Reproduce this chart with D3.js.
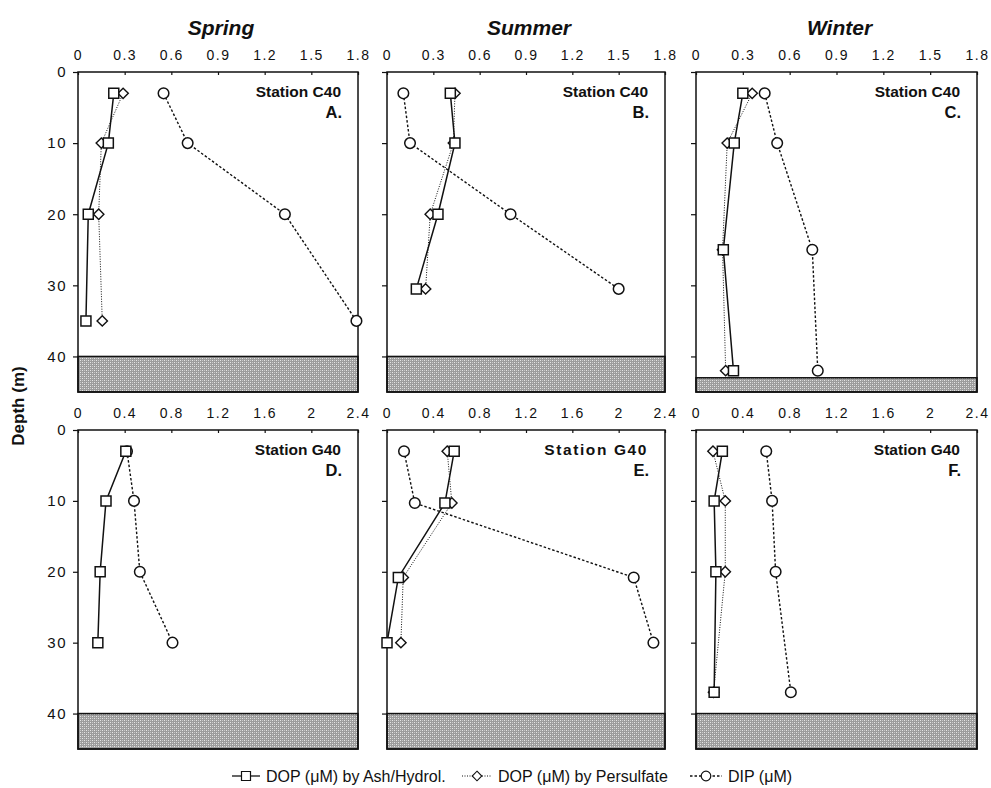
<!DOCTYPE html>
<html lang="en">
<head>
  <meta charset="UTF-8">
  <title>DOP and DIP depth profiles</title>
  <script src="https://d3js.org/d3.v7.min.js"></script>
  <style>
    body {
      margin: 0;
      padding: 0;
      background: #fff;
      font-family: "Liberation Sans", Arial, Helvetica, sans-serif;
    }
    svg text { fill: #111; }
    .tick line { stroke: #111; stroke-width: 1.2; }
    .domain { display: none; }
  </style>
</head>
<body>
  <svg id="chart" width="991" height="788"></svg>

  <script>
    // —— data ——
    const seasons = ["Spring", "Summer", "Winter"];
    const stationNames = ["Station C40", "Station G40"];
    const panelLetters = ["A.", "B.", "C.", "D.", "E.", "F."];
    const topTicks = [0, 0.3, 0.6, 0.9, 1.2, 1.5, 1.8];
    const bottomTicks = [0, 0.4, 0.8, 1.2, 1.6, 2, 2.4];
    const depthTicks = [0, 10, 20, 30, 40];
    const bottomDepth = [40, 40, 43, 40, 40, 40];

    const depthA = [3, 10, 20, 35];
    const ashA = [0.23, 0.195, 0.066, 0.051];
    const persA = [0.29, 0.15, 0.133, 0.156];
    const dipA = [0.55, 0.705, 1.33, 1.79];

    const depthB = [3, 10, 20, 30.5];
    const ashB = [0.41, 0.44, 0.33, 0.19];
    const persB = [0.44, 0.43, 0.28, 0.25];
    const dipB = [0.106, 0.149, 0.80, 1.50];

    const depthC = [3, 10, 25, 42];
    const ashC = [0.30, 0.245, 0.175, 0.24];
    const persC = [0.36, 0.20, 0.17, 0.19];
    const dipC = [0.44, 0.52, 0.745, 0.78];

    const depthD = [3, 10, 20, 30];
    const ashD = [0.41, 0.24, 0.19, 0.17];
    const persD = [];
    const dipD = [0.42, 0.48, 0.53, 0.81];

    const depthE = [3, 10.3, 20.8, 30];
    const ashE = [0.58, 0.50, 0.098, 0.0];
    const persE = [0.52, 0.56, 0.14, 0.12];
    const dipE = [0.147, 0.24, 2.13, 2.30];

    const depthF = [3, 10, 20, 37];
    const ashF = [0.225, 0.155, 0.17, 0.155];
    const persF = [0.145, 0.25, 0.25, 0.15];
    const dipF = [0.60, 0.65, 0.68, 0.81];

    const panels = [
      { depth: depthA, ash: ashA, pers: persA, dip: dipA },
      { depth: depthB, ash: ashB, pers: persB, dip: dipB },
      { depth: depthC, ash: ashC, pers: persC, dip: dipC },
      { depth: depthD, ash: ashD, pers: persD, dip: dipD },
      { depth: depthE, ash: ashE, pers: persE, dip: dipE },
      { depth: depthF, ash: ashF, pers: persF, dip: dipF }
    ];

    const legendLabels = ["DOP (\u03bcM) by Ash/Hydrol.", "DOP (\u03bcM) by Persulfate", "DIP (\u03bcM)"];

    // —— layout ——
    const colX = [[78, 358], [387, 665], [696, 977]];
    const rowY = [[72, 392], [430, 749]];
    const maxDepth = 45;

    const svg = d3.select("#chart");

    // stippled sea-floor pattern
    const pat = svg.append("defs").append("pattern")
      .attr("id", "floor").attr("width", 4).attr("height", 4)
      .attr("patternUnits", "userSpaceOnUse");
    pat.append("rect").attr("width", 4).attr("height", 4).attr("fill", "#9c9c9c");
    pat.append("rect").attr("x", 0).attr("y", 0).attr("width", 1).attr("height", 1).attr("fill", "#e6e6e6");
    pat.append("rect").attr("x", 2).attr("y", 2).attr("width", 1).attr("height", 1).attr("fill", "#e6e6e6");
    pat.append("rect").attr("x", 2).attr("y", 0).attr("width", 1).attr("height", 1).attr("fill", "#c8c8c8");
    pat.append("rect").attr("x", 0).attr("y", 2).attr("width", 1).attr("height", 1).attr("fill", "#c8c8c8");

    const squarePath = s => `M${-s},${-s}h${2*s}v${2*s}h${-2*s}Z`;
    const diamondPath = s => `M0,${-s}L${s},0L0,${s}L${-s},0Z`;

    function drawPanel(i) {
      const row = Math.floor(i / 3), col = i % 3;
      const p = panels[i];
      const xMax = row === 0 ? 1.8 : 2.4;
      const x = d3.scaleLinear().domain([0, xMax]).range(colX[col]);
      const y = d3.scaleLinear().domain([0, maxDepth]).range(rowY[row]);
      const g = svg.append("g");

      // floor
      g.append("rect")
        .attr("x", x(0)).attr("y", y(bottomDepth[i]))
        .attr("width", x(xMax) - x(0)).attr("height", y(maxDepth) - y(bottomDepth[i]))
        .attr("fill", "url(#floor)").attr("stroke", "#111").attr("stroke-width", 1.5);

      // frame
      g.append("rect")
        .attr("x", x(0)).attr("y", y(0))
        .attr("width", x(xMax) - x(0)).attr("height", y(maxDepth) - y(0))
        .attr("fill", "none").attr("stroke", "#111").attr("stroke-width", 1.5);

      // top axis
      const xAxis = d3.axisTop(x)
        .tickValues(row === 0 ? topTicks : bottomTicks)
        .tickFormat(d => d3.format("~g")(d))
        .tickSize(-3).tickPadding(12);
      g.append("g").attr("transform", `translate(0,${y(0)})`).call(xAxis)
        .selectAll("text")
        .attr("font-size", 14).attr("letter-spacing", 1.5)
        .attr("font-family", "'Liberation Sans', Arial, sans-serif");

      // left axis
      const yAxis = d3.axisLeft(y).tickValues(depthTicks).tickSize(5).tickPadding(6)
        .tickFormat(col === 0 ? d3.format("d") : () => "");
      g.append("g").attr("transform", `translate(${x(0)},0)`).call(yAxis)
        .selectAll("text")
        .attr("font-size", 15).attr("letter-spacing", 1.5)
        .attr("font-family", "'Liberation Sans', Arial, sans-serif");

      // series
      const pts = arr => arr.map((v, k) => [x(v), y(p.depth[k])]);
      const line = d3.line();

      g.append("path").attr("d", line(pts(p.dip)))
        .attr("fill", "none").attr("stroke", "#111").attr("stroke-width", 1.4)
        .attr("stroke-dasharray", "2.5,2");
      if (p.pers.length) {
        g.append("path").attr("d", line(pts(p.pers)))
          .attr("fill", "none").attr("stroke", "#111").attr("stroke-width", 1)
          .attr("stroke-dasharray", "1,1.5");
      }
      g.append("path").attr("d", line(pts(p.ash)))
        .attr("fill", "none").attr("stroke", "#111").attr("stroke-width", 1.5);

      g.selectAll(".dip").data(pts(p.dip)).join("circle")
        .attr("cx", d => d[0]).attr("cy", d => d[1]).attr("r", 5.3)
        .attr("fill", "#fff").attr("stroke", "#111").attr("stroke-width", 1.5);
      g.selectAll(".pers").data(pts(p.pers)).join("path")
        .attr("transform", d => `translate(${d[0]},${d[1]})`)
        .attr("d", diamondPath(5.2))
        .attr("fill", "#fff").attr("stroke", "#111").attr("stroke-width", 1.4);
      g.selectAll(".ash").data(pts(p.ash)).join("path")
        .attr("transform", d => `translate(${d[0]},${d[1]})`)
        .attr("d", squarePath(5))
        .attr("fill", "#fff").attr("stroke", "#111").attr("stroke-width", 1.5);

      // labels
      const rx = x(xMax) - 17;
      g.append("text").attr("x", rx).attr("y", y(0) + 25)
        .attr("text-anchor", "end").attr("font-weight", "bold").attr("font-size", 15.5)
        .attr("letter-spacing", i === 4 ? 1.6 : 0)
        .text(stationNames[row]);
      g.append("text").attr("x", rx + 1).attr("y", y(0) + 46)
        .attr("text-anchor", "end").attr("font-weight", "bold").attr("font-size", 16.5)
        .text(panelLetters[i]);

      if (row === 0) {
        g.append("text").attr("x", (colX[col][0] + colX[col][1]) / 2 + 3).attr("y", 35)
          .attr("text-anchor", "middle").attr("font-weight", "bold").attr("font-style", "italic")
          .attr("font-size", 21).text(seasons[col]);
      }
    }

    d3.range(6).forEach(drawPanel);

    // y title
    svg.append("text")
      .attr("transform", "translate(24,406) rotate(-90)")
      .attr("text-anchor", "middle").attr("font-weight", "bold").attr("font-size", 17)
      .text("Depth (m)");

    // legend
    const legend = svg.append("g").attr("transform", "translate(0,776)");
    const items = [
      { x: 232, w: 28, dash: null, sw: 1.3, mark: "square" },
      { x: 462, w: 30, dash: "1,1.5", sw: 1, mark: "diamond" },
      { x: 690, w: 32, dash: "2.5,2", sw: 1.3, mark: "circle" }
    ];
    items.forEach((it, k) => {
      const lg = legend.append("g").attr("transform", `translate(${it.x},0)`);
      const c = it.w / 2;
      lg.append("line").attr("x1", 0).attr("x2", it.w).attr("y1", 0).attr("y2", 0)
        .attr("stroke", "#111").attr("stroke-width", it.sw)
        .attr("stroke-dasharray", it.dash);
      if (it.mark === "square") {
        lg.append("path").attr("transform", `translate(${c},0)`).attr("d", squarePath(4.5))
          .attr("fill", "#fff").attr("stroke", "#111").attr("stroke-width", 1.2);
      } else if (it.mark === "diamond") {
        lg.append("path").attr("transform", `translate(${c},0)`).attr("d", diamondPath(4.8))
          .attr("fill", "#fff").attr("stroke", "#111").attr("stroke-width", 1.1);
      } else {
        lg.append("circle").attr("cx", c).attr("cy", 0).attr("r", 4.8)
          .attr("fill", "#fff").attr("stroke", "#111").attr("stroke-width", 1.2);
      }
      lg.append("text").attr("x", it.w + 6).attr("y", 6).attr("font-size", 16)
        .text(legendLabels[k]);
    });
  </script>
</body>
</html>
